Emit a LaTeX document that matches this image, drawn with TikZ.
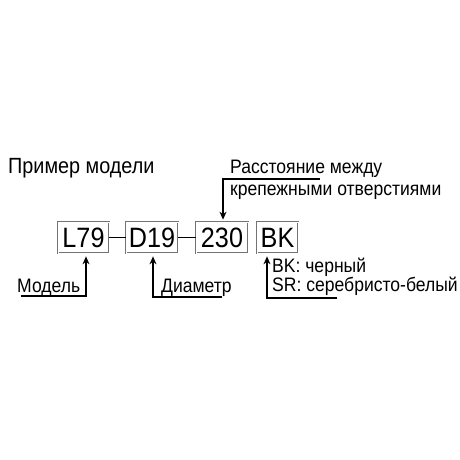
\documentclass[tikz,border=0pt]{standalone}
\usepackage{fontspec}
\setmainfont[FakeStretch=0.9]{Liberation Sans}
\usepackage{tikz}
\usetikzlibrary{arrows.meta}
\colorlet{boxgray}{black!55}
\tikzset{
    partbox/.style={draw=boxgray, double=white, double distance=0.7pt, line width=0.7pt,
        minimum height=31pt, inner sep=0pt, font=\fontsize{28}{30}\selectfont},
    lbl/.style={anchor=base west, inner sep=0pt, font=\fontsize{19.5}{22}\selectfont},
    arr/.style={-{Stealth[length=8pt,width=7pt]}, line width=1.4pt}
}

\begin{document}
\begin{tikzpicture}[x=1pt, y=-1pt]
            \useasboundingbox (0,0) rectangle (460,460);
            % model code boxes
            \foreach \name/\txt/\x/\w in {l79/L79/83.5/51, d19/D19/152/52, n230/230/222/52, bk/BK/277.5/41}{
                \node[partbox, minimum width=\w pt] (\name) at (\x,237.5) {\txt};
            }
            \draw[line width=1.4pt] (l79.east) -- (d19.west);
            \draw[line width=1.4pt] (d19.east) -- (n230.west);
            % labels
            \node[lbl, font=\fontsize{22}{24}\selectfont] (title) at (8,173) {Пример модели};
            \node[lbl] (dist1) at (230,173) {Расстояние между};
            \node[lbl] (dist2) at (230,195) {крепежными отверстиями};
            \node[lbl] (model) at (17,292) {Модель};
            \node[lbl] (diam) at (161,292) {Диаметр};
            \node[lbl] (col1) at (272,272) {BK: черный};
            \node[lbl] (col2) at (272,291) {SR: серебристо-белый};
            % leader lines
            \coordinate (distfoot) at (320,179);
            \coordinate (modfoot) at (21,296);
            \coordinate (diamfoot) at (222,297);
            \coordinate (colfoot) at (337,298);
            \draw[arr, shorten >=2pt] (distfoot) -| ([xshift=1pt]n230.north);
            \draw[arr, shorten >=3pt] (modfoot) -| ([xshift=2.5pt]l79.south);
            \draw[arr, shorten >=3pt] (diamfoot) -| ([xshift=1pt]d19.south);
            \draw[arr, shorten >=3pt] (colfoot) -| ([xshift=-10.5pt]bk.south);
        \end{tikzpicture}
\end{document}
